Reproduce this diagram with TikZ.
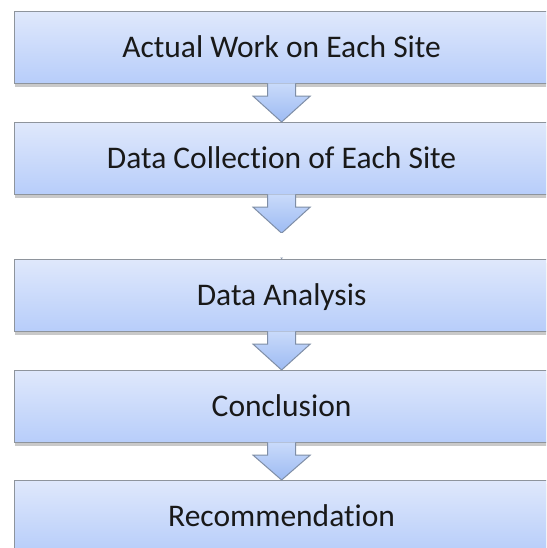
\documentclass[tikz,border=0pt]{standalone}
\usepackage{fontspec}
\setmainfont{Carlito}[Ligatures=NoCommon]
\usetikzlibrary{calc,shadows}
\definecolor{boxtop}{HTML}{DFE8FB}
\definecolor{boxbot}{HTML}{B7CDFA}
\definecolor{boxline}{HTML}{8E949C}
\definecolor{arrtop}{HTML}{C9DAFA}
\definecolor{arrbot}{HTML}{9DBBF3}
\definecolor{arrline}{HTML}{7F8EA6}
\tikzset{
  stepbox/.style={draw=boxline, line width=1.2pt, top color=boxtop, bottom color=boxbot,
    minimum width=534pt, minimum height=72pt, anchor=north west, inner sep=0pt,
    text height=20.3pt, text depth=0pt, text=black!90,
    font=\fontsize{31.5}{36}\selectfont,
    drop shadow={shadow xshift=0pt, shadow yshift=-3pt, opacity=0.35, fill=black!60}},
  flowarrow/.style={draw=arrline, line width=1pt, top color=arrtop, bottom color=arrbot, line join=miter}
}
\newcommand{\blockarrow}[2]{%
  \path[flowarrow]
    ($(#1)+(-14,0.8)$) -- ($(#1)+(-14,-12)$) -- ($(#1)+(-28.5,-12)$)
    -- (#2) -- ($(#1)+(28.5,-12)$) -- ($(#1)+(14,-12)$) -- ($(#1)+(14,0.8)$);
}
\begin{document}
\begin{tikzpicture}[x=1pt,y=1pt]
  \useasboundingbox (0,0) rectangle (546,-548);
  \clip (0,0) rectangle (546,-548);
  \fill[white] (0,0) rectangle (546,-548);
  \node[stepbox] (b1) at (14,-11)  {Actual Work on Each Site};
  \node[stepbox] (b2) at (14,-122) {Data Collection of Each Site};
  \node[stepbox] (b3) at (14,-259) {Data Analysis};
  \node[stepbox] (b4) at (14,-370) {Conclusion};
  \node[stepbox] (b5) at (14,-480) {Recommendation};
  \coordinate (cut) at ($(b2.south)+(0,-38)$);
  \blockarrow{b1.south}{b2.north}
  \blockarrow{b2.south}{cut}
  \blockarrow{b3.south}{b4.north}
  \blockarrow{b4.south}{b5.north}
  % white band across the picture
  \fill[white] (0,-232.5) rectangle (546,-257.5);
  \fill[arrline] ($(b3.north)+(-1.5,1.5)$) -- ($(b3.north)+(1.5,1.5)$) -- (b3.north) -- cycle;
\end{tikzpicture}
\end{document}
